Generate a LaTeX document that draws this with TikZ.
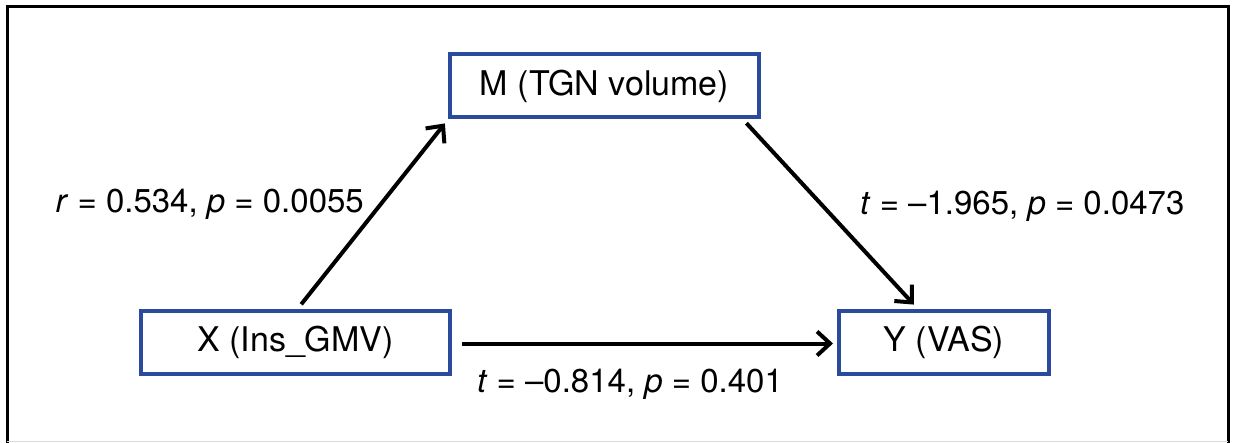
\documentclass[tikz,border=0pt]{standalone}
\usepackage{fontspec}
\setmainfont{TeX Gyre Heros}
\usetikzlibrary{arrows.meta}
\definecolor{boxblue}{HTML}{2A4A9E}
\begin{document}
\begin{tikzpicture}[x=1pt,y=-1pt,
  varbox/.style={draw=boxblue,line width=4pt,minimum height=63pt,inner sep=0pt,
    font=\fontsize{34}{40}\selectfont},
  arr/.style={line width=4pt,-{Straight Barb[length=13pt,width=24pt,line width=4pt]}},
  lab/.style={font=\fontsize{33}{40}\selectfont,inner sep=0pt}]
\useasboundingbox (0,0) rectangle (1233,443);
\fill[white] (0,0) rectangle (1233,443);
\draw[line width=3pt,line cap=rect] (7,441) -- (7,7) -- (1228,7) -- (1228,441);
\draw[line width=1pt,black!15] (7,441) -- (1228,441);
\node[varbox,minimum width=309pt] (M) at (604.5,86) {M (TGN volume)};
\node[varbox,minimum width=309pt] (X) at (295.5,342.5) {X (Ins\_GMV)};
\node[varbox,minimum width=210pt] (Y) at (944,342.5) {Y (VAS)};
\draw[arr,shorten <=6pt,shorten >=5pt] ([xshift=2pt]X.north) -- (M.south west);
\draw[arr,shorten <=5pt,shorten >=6pt] ([xshift=-18pt]M.south east) -- ([xshift=-26pt]Y.north);
\draw[arr,shorten <=10pt,shorten >=4pt] ([yshift=-1pt]X.east) -- ([yshift=-1pt]Y.west);
\node[lab,anchor=east] (l1) at (364,204) {\textit{r} = 0.534, \textit{p} = 0.0055};
\node[lab,anchor=west] (l2) at (860,206) {\textit{t} = --1.965, \textit{p} = 0.0473};
\node[lab] (l3) at (630,384) {\textit{t} = --0.814, \textit{p} = 0.401};
\end{tikzpicture}
\end{document}
